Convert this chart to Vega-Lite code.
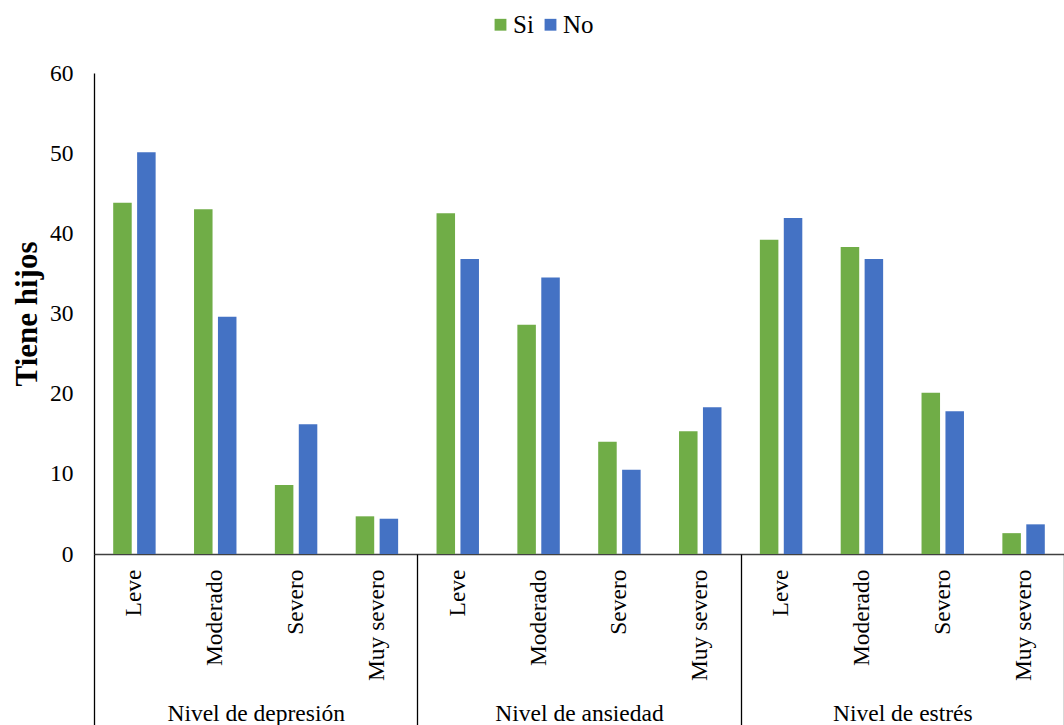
{
  "$schema": "https://vega.github.io/schema/vega-lite/v6.json",
  "autosize": {"type": "none"},
  "padding": {"left": 94, "top": 73, "right": 0, "bottom": 171},
  "width": 970,
  "height": 481,
  "background": "white",
  "config": {
    "font": "Liberation Serif",
    "view": {"stroke": null},
    "axis": {"labelFont": "Liberation Serif", "titleFont": "Liberation Serif", "labelColor": "#000", "titleColor": "#000"},
    "legend": {"labelFont": "Liberation Serif", "labelColor": "#000"}
  },
  "data": {
    "values": [
      {"grupo": "Nivel de depresión", "clave": "Nivel de depresión|Leve", "serie": "Si", "valor": 43.8},
      {"grupo": "Nivel de depresión", "clave": "Nivel de depresión|Leve", "serie": "No", "valor": 50.1},
      {"grupo": "Nivel de depresión", "clave": "Nivel de depresión|Moderado", "serie": "Si", "valor": 43.0},
      {"grupo": "Nivel de depresión", "clave": "Nivel de depresión|Moderado", "serie": "No", "valor": 29.6},
      {"grupo": "Nivel de depresión", "clave": "Nivel de depresión|Severo", "serie": "Si", "valor": 8.6},
      {"grupo": "Nivel de depresión", "clave": "Nivel de depresión|Severo", "serie": "No", "valor": 16.2},
      {"grupo": "Nivel de depresión", "clave": "Nivel de depresión|Muy severo", "serie": "Si", "valor": 4.7},
      {"grupo": "Nivel de depresión", "clave": "Nivel de depresión|Muy severo", "serie": "No", "valor": 4.4},
      {"grupo": "Nivel de ansiedad", "clave": "Nivel de ansiedad|Leve", "serie": "Si", "valor": 42.5},
      {"grupo": "Nivel de ansiedad", "clave": "Nivel de ansiedad|Leve", "serie": "No", "valor": 36.8},
      {"grupo": "Nivel de ansiedad", "clave": "Nivel de ansiedad|Moderado", "serie": "Si", "valor": 28.6},
      {"grupo": "Nivel de ansiedad", "clave": "Nivel de ansiedad|Moderado", "serie": "No", "valor": 34.5},
      {"grupo": "Nivel de ansiedad", "clave": "Nivel de ansiedad|Severo", "serie": "Si", "valor": 14.0},
      {"grupo": "Nivel de ansiedad", "clave": "Nivel de ansiedad|Severo", "serie": "No", "valor": 10.5},
      {"grupo": "Nivel de ansiedad", "clave": "Nivel de ansiedad|Muy severo", "serie": "Si", "valor": 15.3},
      {"grupo": "Nivel de ansiedad", "clave": "Nivel de ansiedad|Muy severo", "serie": "No", "valor": 18.3},
      {"grupo": "Nivel de estrés", "clave": "Nivel de estrés|Leve", "serie": "Si", "valor": 39.2},
      {"grupo": "Nivel de estrés", "clave": "Nivel de estrés|Leve", "serie": "No", "valor": 41.9},
      {"grupo": "Nivel de estrés", "clave": "Nivel de estrés|Moderado", "serie": "Si", "valor": 38.3},
      {"grupo": "Nivel de estrés", "clave": "Nivel de estrés|Moderado", "serie": "No", "valor": 36.8},
      {"grupo": "Nivel de estrés", "clave": "Nivel de estrés|Severo", "serie": "Si", "valor": 20.1},
      {"grupo": "Nivel de estrés", "clave": "Nivel de estrés|Severo", "serie": "No", "valor": 17.8},
      {"grupo": "Nivel de estrés", "clave": "Nivel de estrés|Muy severo", "serie": "Si", "valor": 2.6},
      {"grupo": "Nivel de estrés", "clave": "Nivel de estrés|Muy severo", "serie": "No", "valor": 3.7}
    ]
  },
  "layer": [
    {
      "mark": {"type": "bar"},
      "encoding": {
        "x": {
          "field": "clave", "type": "nominal", "sort": null,
          "scale": {"type": "band", "paddingInner": 0.475, "paddingOuter": 0.2375},
          "axis": {
            "orient": "bottom", "title": null, "labelAngle": -90, "labelFontSize": 23.5,
            "labelExpr": "split(datum.label, '|')[1]", "ticks": false, "tickSize": 0,
            "labelPadding": 15, "domainColor": "#404040", "domainWidth": 1.3
          }
        },
        "xOffset": {
          "field": "serie", "type": "nominal", "sort": ["Si", "No"],
          "scale": {"paddingInner": 0.226, "paddingOuter": 0}
        },
        "y": {
          "field": "valor", "type": "quantitative",
          "scale": {"domain": [0, 60], "nice": false},
          "axis": {
            "title": "Tiene hijos", "titleFontSize": 31, "titleFontWeight": "bold", "titlePadding": 6,
            "values": [0, 10, 20, 30, 40, 50, 60], "grid": false, "ticks": false, "tickSize": 0,
            "labelFontSize": 23.5, "labelPadding": 21, "domainColor": "#000", "domainWidth": 1.3
          }
        },
        "color": {
          "field": "serie", "type": "nominal",
          "scale": {"domain": ["Si", "No"], "range": ["#70AD47", "#4472C4"]},
          "legend": {
            "title": null, "orient": "none", "direction": "horizontal", "legendX": 394, "legendY": -61,
            "symbolType": "square", "symbolSize": 140, "symbolStrokeWidth": 0,
            "labelFont": "Liberation Serif", "labelFontSize": 25, "labelColor": "#000",
            "columnPadding": 4, "labelOffset": 0
          }
        }
      }
    },
    {
      "mark": {"type": "rule", "opacity": 0},
      "encoding": {
        "x": {
          "field": "grupo", "type": "nominal", "sort": null,
          "scale": {"type": "band", "paddingInner": 0, "paddingOuter": 0},
          "axis": {
            "orient": "bottom", "title": null, "labelAngle": 0, "labelFontSize": 23.5,
            "domain": false, "ticks": true, "tickBand": "extent", "tickSize": 171,
            "tickColor": "#000", "tickWidth": 1.3, "labelPadding": -24
          }
        }
      }
    }
  ],
  "resolve": {"scale": {"x": "independent"}, "axis": {"x": "independent"}}
}
